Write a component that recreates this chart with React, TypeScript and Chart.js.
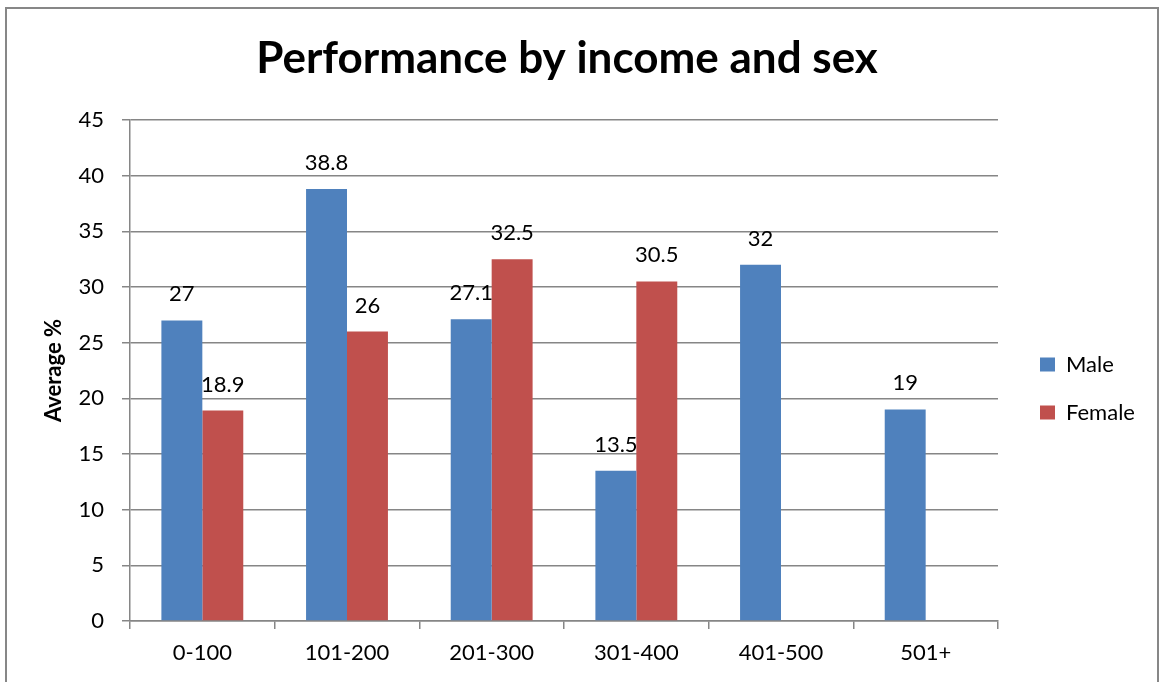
import React, { useEffect, useRef } from "react";
import { Chart, registerables } from "chart.js";

Chart.register(...registerables);

const categories = ["0-100", "101-200", "201-300", "301-400", "401-500", "501+"];
const maleValues: (number | null)[] = [27, 38.8, 27.1, 13.5, 32, 19];
const femaleValues: (number | null)[] = [18.9, 26, 32.5, 30.5, null, null];
const seriesNames = ["Male", "Female"];
const yMin = 0;
const yMax = 45;
const yStep = 5;

const FONT = "Lato, Carlito, Calibri, 'Open Sans', sans-serif";
const GRID = "#868686";

const dataLabels = {
  id: "dataLabels",
  afterDatasetsDraw(chart: any) {
    const ctx = chart.ctx;
    ctx.save();
    ctx.font = `22px ${FONT}`;
    ctx.fillStyle = "#000";
    ctx.textAlign = "center";
    ctx.textBaseline = "alphabetic";
    chart.data.datasets.forEach((ds: any, di: number) => {
      const meta = chart.getDatasetMeta(di);
      meta.data.forEach((bar: any, i: number) => {
        const v = ds.data[i];
        if (v === null || v === undefined) return;
        ctx.fillText(String(v), bar.x, bar.y - 19);
      });
    });
    ctx.restore();
  },
};

export default function App() {
  const ref = useRef<HTMLCanvasElement | null>(null);

  useEffect(() => {
    if (!ref.current) return;
    const chart = new Chart(ref.current, {
      type: "bar",
      data: {
        labels: categories,
        datasets: [
          {
            label: seriesNames[0],
            data: maleValues,
            backgroundColor: "#4F81BD",
            borderWidth: 0,
          },
          {
            label: seriesNames[1],
            data: femaleValues,
            backgroundColor: "#C0504D",
            borderWidth: 0,
          },
        ],
      },
      options: {
        animation: false,
        responsive: true,
        maintainAspectRatio: false,
        layout: { padding: { left: 0, right: 33, top: 0, bottom: 0 } },
        datasets: { bar: { barPercentage: 1, categoryPercentage: 0.566 } },
        plugins: {
          title: {
            display: true,
            text: "Performance by income and sex",
            color: "#000",
            font: { family: FONT, size: 44, weight: "bold" },
            padding: { top: 32.6, bottom: 34.6 },
          },
          legend: {
            position: "right",
            fullSize: false,
            maxWidth: 120,
            title: { display: true, text: " ", font: { size: 10 }, padding: { top: 12, bottom: 12 } },
            labels: {
              color: "#000",
              font: { family: FONT, size: 22 },
              boxWidth: 15,
              boxHeight: 14,
              padding: 26,
            },
          },
          tooltip: { enabled: false },
        },
        scales: {
          x: {
            grid: {
              display: true,
              drawOnChartArea: false,
              drawTicks: true,
              tickLength: 8,
              color: GRID,
              lineWidth: 1.5,
            },
            border: { display: true, color: GRID, width: 1.5 },
            ticks: { color: "#000", font: { family: FONT, size: 22 }, padding: 11 },
            afterFit: (s: any) => {
              s.height = 61;
            },
          },
          y: {
            min: yMin,
            max: yMax,
            ticks: {
              stepSize: yStep,
              color: "#000",
              font: { family: FONT, size: 22 },
              padding: 18,
            },
            grid: { color: GRID, lineWidth: 1.5, tickLength: 8 },
            border: { display: true, color: GRID, width: 1.5 },
            title: {
              display: true,
              text: "Average %",
              color: "#000",
              font: { family: FONT, size: 22, weight: "bold" },
              padding: { top: 41, bottom: 0 },
            },
            afterFit: (s: any) => {
              s.width = 130;
            },
          },
          y2: {
            type: "linear",
            position: "right",
            display: true,
            grid: { display: false, drawTicks: false },
            border: { display: false },
            ticks: { display: false },
            afterFit: (s: any) => {
              s.width = 16;
            },
          },
        },
      },
      plugins: [dataLabels],
    } as any);
    return () => chart.destroy();
  }, []);

  return (
    <div
      style={{
        position: "fixed",
        left: 0,
        top: 0,
        width: 1167,
        height: 682,
        overflow: "hidden",
        background: "#fff",
      }}
    >
      <div
        style={{
          position: "absolute",
          left: 5,
          top: 7,
          width: 1154,
          height: 720,
          border: "2px solid #878787",
          boxSizing: "border-box",
        }}
      />
      <div style={{ position: "absolute", left: 0, top: 0, width: 1167, height: 682 }}>
        <canvas ref={ref} />
      </div>
    </div>
  );
}
